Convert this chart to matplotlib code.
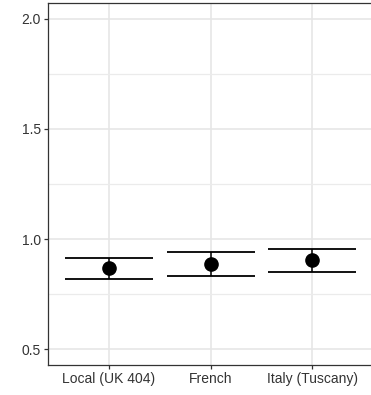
import matplotlib.pyplot as plt
import numpy as np

plt.rcParams["font.family"] = ["Liberation Sans", "DejaVu Sans"]

groups = ["Local (UK 404)", "French", "Italy (Tuscany)"]
estimate = [0.867, 0.888, 0.903]
lower = [0.820, 0.832, 0.851]
upper = [0.915, 0.942, 0.956]

fig = plt.figure(figsize=(3.71, 3.95), dpi=100)
ax = fig.add_axes([0.1294, 0.0759, 0.876, 0.9165])

x = np.arange(1, len(groups) + 1)
est = np.array(estimate)
yerr = [est - np.array(lower), np.array(upper) - est]
ax.errorbar(x, est, yerr=yerr, fmt="none", ecolor="black", elinewidth=1.1,
            capsize=32, capthick=1.3, zorder=3)
ax.plot(x, est, "o", color="black", markersize=9.5, zorder=4)

ax.set_xlim(0.4, 3.6)
ax.set_ylim(0.4275, 2.0725)
ax.set_xticks(x)
ax.set_xticklabels(groups)
ax.set_yticks([0.5, 1.0, 1.5, 2.0])
ax.set_yticks([0.75, 1.25, 1.75], minor=True)

# theme_bw-like styling; the panel runs off the right edge of the figure
ax.grid(True, which="major", color="#E6E6E6", linewidth=1.2, zorder=0)
ax.grid(True, which="minor", axis="y", color="#EBEBEB", linewidth=0.9, zorder=0)
ax.set_axisbelow(True)
for s in ax.spines.values():
    s.set_color("#333333")
    s.set_linewidth(0.9)
ax.spines["right"].set_visible(False)
ax.tick_params(which="major", length=3, width=0.9, color="#333333",
               labelsize=10, labelcolor="#333333", pad=2)
ax.tick_params(which="minor", length=0)

fig.savefig("out.png", dpi=100)
